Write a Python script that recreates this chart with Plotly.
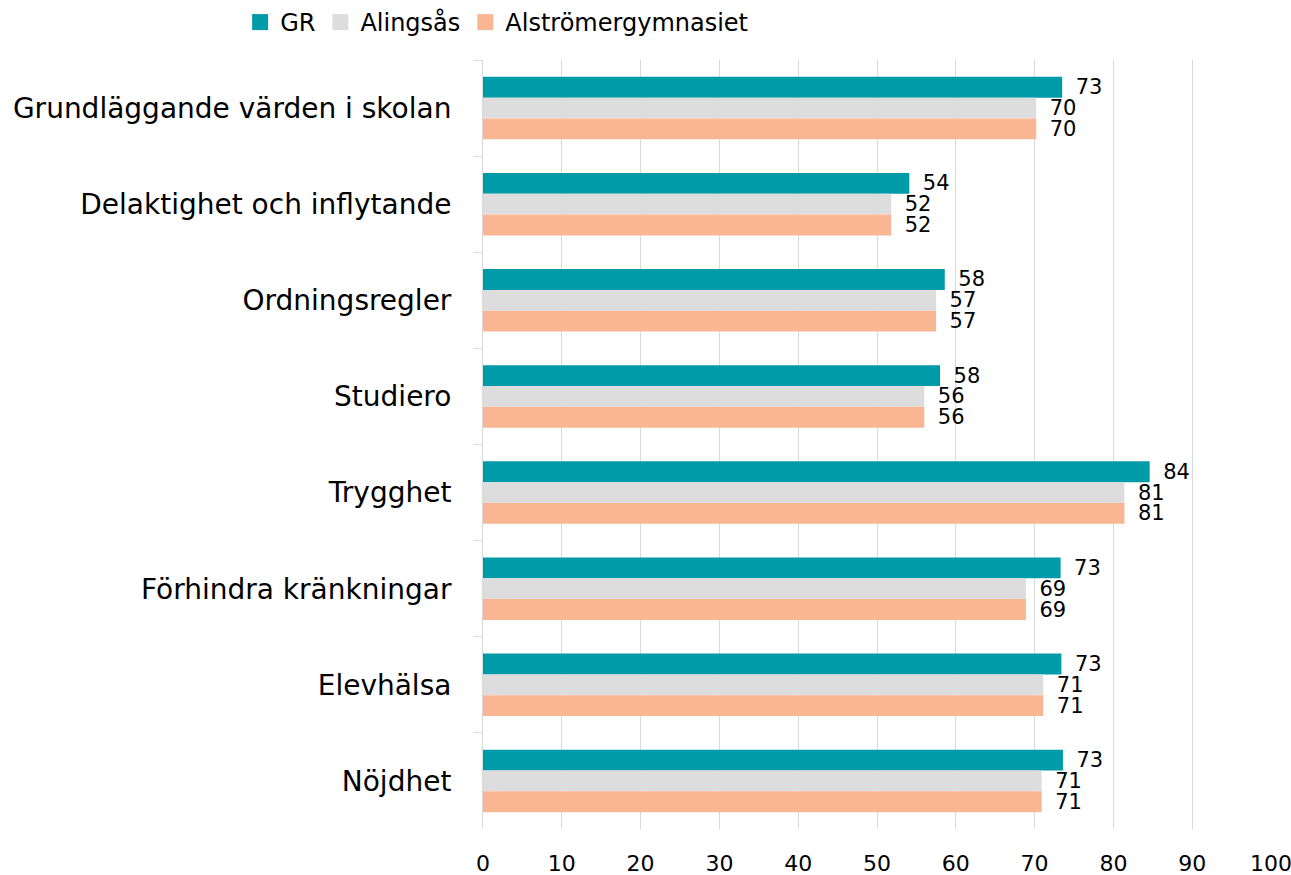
import plotly.graph_objects as go

categories = [
    "Grundläggande värden i skolan",
    "Delaktighet och inflytande",
    "Ordningsregler",
    "Studiero",
    "Trygghet",
    "Förhindra kränkningar",
    "Elevhälsa",
    "Nöjdhet",
]
series_names = ["GR", "Alingsås", "Alströmergymnasiet"]
gr_values = [73.5, 54.1, 58.6, 58.0, 84.6, 73.3, 73.4, 73.6]
alingsas_values = [70.2, 51.8, 57.5, 56.0, 81.4, 68.9, 71.1, 70.9]
alstromer_values = [70.2, 51.8, 57.5, 56.0, 81.4, 68.9, 71.1, 70.9]
gr_labels = ["73", "54", "58", "58", "84", "73", "73", "73"]
alingsas_labels = ["70", "52", "57", "56", "81", "69", "71", "71"]
alstromer_labels = ["70", "52", "57", "56", "81", "69", "71", "71"]
colors = ["#009BA9", "#DDDDDD", "#F8B692"]
x_ticks = [0, 10, 20, 30, 40, 50, 60, 70, 80, 90, 100]

FONT = "DejaVu Sans"
fig = go.Figure()
for name, vals, labs, col in zip(
    series_names,
    [gr_values, alingsas_values, alstromer_values],
    [gr_labels, alingsas_labels, alstromer_labels],
    colors,
):
    fig.add_trace(
        go.Bar(
            y=categories,
            x=vals,
            name=name,
            orientation="h",
            marker=dict(color=col, line=dict(width=0)),
            text=labs,
            texttemplate="\u2002%{text}",
            textposition="outside",
            constraintext="none",
            textfont=dict(family=FONT, size=21, color="#000000"),
            cliponaxis=False,
            showlegend=False,
        )
    )
# legend entries with larger square swatches
for name, col in zip(series_names, colors):
    fig.add_trace(
        go.Scatter(
            x=[None],
            y=[None],
            mode="markers",
            name=name,
            marker=dict(symbol="square", size=16, color=col),
            showlegend=True,
            hoverinfo="skip",
        )
    )

fig.update_layout(
    width=1291,
    height=875,
    barmode="group",
    bargap=0.35,
    bargroupgap=0,
    plot_bgcolor="white",
    paper_bgcolor="white",
    font=dict(family=FONT, color="#000000"),
    margin=dict(l=483, r=20, t=60, b=46, autoexpand=False),
    legend=dict(
        orientation="h",
        x=0.186,
        xanchor="left",
        xref="container",
        y=1.0,
        yanchor="top",
        yref="container",
        font=dict(family=FONT, size=24, color="#000000"),
        itemwidth=30,
        traceorder="normal",
        itemsizing="trace",
    ),
    showlegend=True,
)
fig.update_xaxes(
    range=[0, 100],
    tickvals=x_ticks,
    showgrid=True,
    gridcolor="#D9D9D9",
    gridwidth=1,
    zeroline=False,
    showline=False,
    ticks="",
    ticklabelstandoff=19,
    ticklabeloverflow="allow",
    tickfont=dict(family=FONT, size=22, color="#000000"),
)
fig.update_yaxes(
    autorange="reversed",
    showline=True,
    linecolor="#D9D9D9",
    linewidth=1,
    ticks="outside",
    tickson="boundaries",
    ticklen=8,
    tickcolor="#D9D9D9",
    showgrid=False,
    ticklabelstandoff=25,
    tickfont=dict(family=FONT, size=28, color="#000000"),
)
fig.write_html(
    "out.html",
    config={"displayModeBar": False},
    post_script="document.body.style.margin='0px';",
)
